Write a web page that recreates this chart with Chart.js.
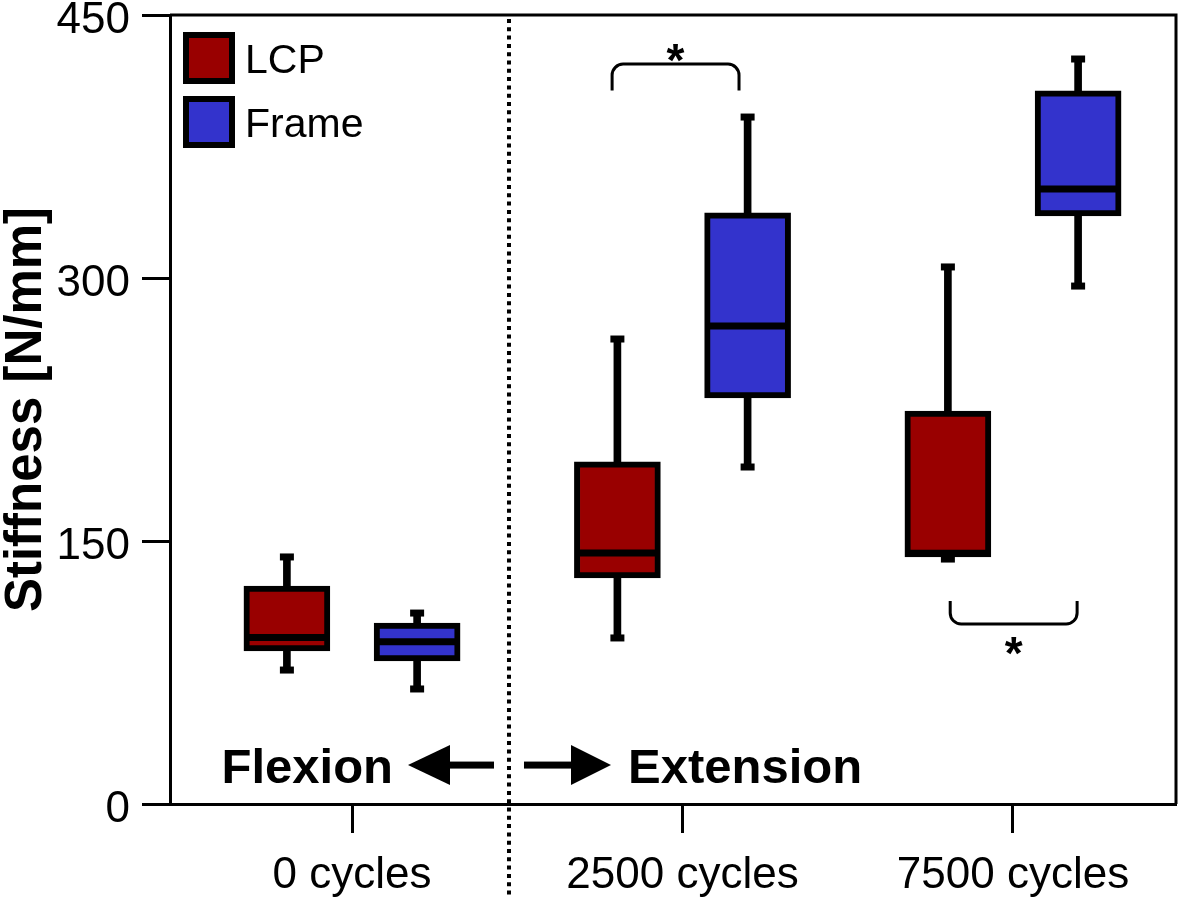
<!DOCTYPE html>
<html>
<head>
<meta charset="utf-8">
<script src="https://cdn.jsdelivr.net/npm/chart.js@4.4.1/dist/chart.umd.min.js"></script>
<style>
  html, body { margin: 0; padding: 0; background: #fff; }
  #wrap { width: 1200px; height: 897px; position: relative; }
</style>
</head>
<body>
<div id="wrap"><canvas id="chartStiffness"></canvas></div>
<script>
// categories and box-plot values (N/mm)
const CATEGORIES = ['0 cycles', '2500 cycles', '7500 cycles'];
const SERIES = ['LCP', 'Frame'];
const COLORS = ['#990000', '#3333CC'];

const LCP_MIN    = [76.4, 94.7, 139.7];
const LCP_Q1     = [87.3, 128.9, 140.9];
const LCP_MEDIAN = [94.9, 143.2, 143.0];
const LCP_Q3     = [124.3, 195.1, 224.1];
const LCP_MAX    = [140.9, 265.2, 306.3];

const FRAME_MIN    = [65.6, 192.2, 295.4];
const FRAME_Q1     = [81.6, 231.6, 335.4];
const FRAME_MEDIAN = [92.6, 272.6, 350.8];
const FRAME_Q3     = [103.2, 337.1, 406.7];
const FRAME_MAX    = [108.9, 391.8, 424.9];

const Y_TICKS = [0, 150, 300, 450];

// significance brackets: category, span, level, tail end
const BRACKETS = [
    { cat: 1, from: -0.213, to: 0.171, y: 422, tail: 407, star: 430 },
    { cat: 2, from: -0.19, to: 0.194, y: 102.7, tail: 115.8, star: 91.8 }
];

const FONT = "'Liberation Sans', Arial, Helvetica, sans-serif";
const OFFSET = 0.197;   // box shift from the category centre
const BOX_W = 86;

const boxes = (q1, q3, side) => CATEGORIES.map((c, i) => ({ x: i + side * OFFSET, y: [q1[i], q3[i]] }));
const whiskers = (lo, hi, side) => CATEGORIES.map((c, i) => ({ x: i + side * OFFSET, y: [lo[i], hi[i]] }));
const points = (vals, side) => CATEGORIES.map((c, i) => ({ x: i + side * OFFSET, y: vals[i] }));

// ------------------------------------------------------------------
// plugin: frame, divider, legend, brackets and flexion / extension
// ------------------------------------------------------------------
const extras = {
    id: 'extras',
    afterDraw(chart) {
        const { ctx, chartArea: a, scales: { x, y } } = chart;
        ctx.save();

        // top and right frame lines
        ctx.strokeStyle = '#000';
        ctx.lineWidth = 3;
        ctx.beginPath();
        ctx.moveTo(a.left, a.top);
        ctx.lineTo(a.right, a.top);
        ctx.lineTo(a.right, a.bottom);
        ctx.stroke();

        // dotted divider between flexion and extension
        const dx = x.getPixelForValue(0.475);
        ctx.setLineDash([4, 4.3]);
        ctx.lineWidth = 4;
        ctx.beginPath();
        ctx.moveTo(dx, a.top + 4);
        ctx.lineTo(dx, chart.height);
        ctx.stroke();
        ctx.setLineDash([]);

        // legend
        SERIES.forEach((name, i) => {
            const lx = a.left + 13, ly = a.top + 17 + i * 64;
            ctx.fillStyle = '#000';
            ctx.fillRect(lx, ly, 52, 52);
            ctx.fillStyle = COLORS[i];
            ctx.fillRect(lx + 6, ly + 6, 40, 40);
            ctx.fillStyle = '#000';
            ctx.font = '41px ' + FONT;
            ctx.textAlign = 'left';
            ctx.textBaseline = 'alphabetic';
            ctx.fillText(name, lx + 62, ly + 41);
        });

        // brackets with asterisks
        ctx.lineWidth = 3;
        BRACKETS.forEach(b => {
            const x1 = x.getPixelForValue(b.cat + b.from);
            const x2 = x.getPixelForValue(b.cat + b.to);
            const yl = y.getPixelForValue(b.y);
            const yt = y.getPixelForValue(b.tail);
            const r = 11;
            ctx.beginPath();
            ctx.moveTo(x1, yt);
            ctx.arcTo(x1, yl, x1 + r, yl, r);
            ctx.arcTo(x2, yl, x2, yt, r);
            ctx.lineTo(x2, yt);
            ctx.stroke();
            ctx.font = 'bold 46px ' + FONT;
            ctx.textAlign = 'center';
            ctx.textBaseline = 'alphabetic';
            ctx.fillText('*', (x1 + x2) / 2, y.getPixelForValue(b.star) + 26);
        });

        // flexion / extension labels with arrows
        const ay = y.getPixelForValue(22.2);
        ctx.font = 'bold 49px ' + FONT;
        ctx.textBaseline = 'alphabetic';
        ctx.textAlign = 'right';
        ctx.fillText('Flexion', dx - 116, ay + 18);
        ctx.textAlign = 'left';
        ctx.fillText('Extension', dx + 119, ay + 18);

        const arrow = (tail, base, tip) => {
            ctx.fillRect(Math.min(tail, base), ay - 3.5, Math.abs(base - tail), 7);
            ctx.beginPath();
            ctx.moveTo(tip, ay);
            ctx.lineTo(base, ay - 20);
            ctx.lineTo(base, ay + 20);
            ctx.closePath();
            ctx.fill();
        };
        arrow(dx - 15, dx - 59, dx - 101);
        arrow(dx + 15, dx + 62, dx + 102);

        ctx.restore();
    }
};

Chart.defaults.font.family = FONT;
Chart.defaults.color = '#000';

new Chart(document.getElementById('chartStiffness'), {
    type: 'bar',
    data: {
        datasets: [
            {
                label: 'whiskers',
                data: whiskers(LCP_MIN, LCP_MAX, -1).concat(whiskers(FRAME_MIN, FRAME_MAX, 1)),
                backgroundColor: '#000',
                barThickness: 7,
                grouped: false,
                order: 3
            },
            {
                label: SERIES[0],
                data: boxes(LCP_Q1, LCP_Q3, -1),
                backgroundColor: COLORS[0],
                borderColor: '#000',
                borderWidth: 6,
                borderSkipped: false,
                barThickness: BOX_W,
                grouped: false,
                order: 2
            },
            {
                label: SERIES[1],
                data: boxes(FRAME_Q1, FRAME_Q3, 1),
                backgroundColor: COLORS[1],
                borderColor: '#000',
                borderWidth: 6,
                borderSkipped: false,
                barThickness: BOX_W,
                grouped: false,
                order: 2
            },
            {
                type: 'line',
                label: 'medians',
                data: points(LCP_MEDIAN, -1).concat(points(FRAME_MEDIAN, 1)),
                showLine: false,
                pointStyle: 'line',
                pointRadius: BOX_W / 2 - 1,
                pointBorderWidth: 7,
                pointBorderColor: '#000',
                order: 1
            },
            {
                type: 'line',
                label: 'caps',
                data: points(LCP_MIN, -1).concat(points(LCP_MAX, -1), points(FRAME_MIN, 1), points(FRAME_MAX, 1)),
                showLine: false,
                pointStyle: 'line',
                pointRadius: 7,
                pointBorderWidth: 7,
                pointBorderColor: '#000',
                order: 1
            }
        ]
    },
    options: {
        responsive: true,
        maintainAspectRatio: false,
        animation: false,
        events: [],
        layout: { autoPadding: false, padding: { left: 0, top: 15, right: 24, bottom: 0 } },
        scales: {
            x: {
                type: 'linear',
                offset: false,
                min: -0.5507,
                max: 2.4932,
                afterBuildTicks: scale => { scale.ticks = CATEGORIES.map((c, i) => ({ value: i })); },
                afterFit: scale => { scale.height = 93; scale.paddingLeft = 0; scale.paddingRight = 0; },
                ticks: {
                    callback: v => CATEGORIES[v],
                    font: { size: 44 },
                    padding: 16,
                    maxRotation: 0,
                    autoSkip: false
                },
                grid: { offset: false, drawOnChartArea: false, drawTicks: true, tickLength: 29, tickWidth: 3, tickColor: '#000' },
                border: { width: 3, color: '#000' }
            },
            y: {
                min: 0,
                max: 450,
                afterBuildTicks: scale => { scale.ticks = Y_TICKS.map(v => ({ value: v })); },
                afterFit: scale => { scale.width = 170; scale.paddingTop = 0; scale.paddingBottom = 0; },
                ticks: { font: { size: 44 }, padding: 12, labelOffset: 6 },
                grid: { drawOnChartArea: false, drawTicks: true, tickLength: 28, tickWidth: 3, tickColor: '#000' },
                border: { width: 3, color: '#000' },
                title: {
                    display: true,
                    text: 'Stiffness [N/mm]',
                    font: { size: 51, weight: 'bold', lineHeight: 1 },
                    padding: { top: 1, bottom: 0 }
                }
            }
        },
        plugins: {
            legend: { display: false },
            tooltip: { enabled: false }
        }
    },
    plugins: [extras]
});
</script>
</body>
</html>
